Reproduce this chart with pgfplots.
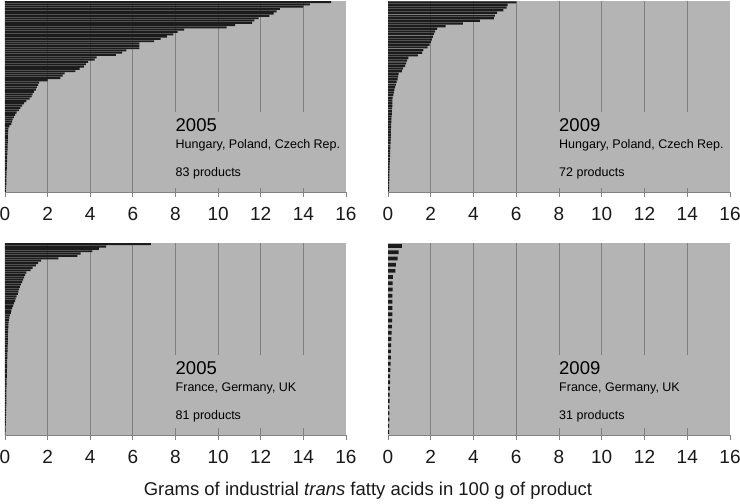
\documentclass[border=0pt]{standalone}
\usepackage{fontspec}
\setmainfont{Liberation Sans}
\usepackage{pgfplots}
\pgfplotsset{compat=1.18}
\definecolor{bgcol}{RGB}{180,180,180}
\definecolor{barcol}{RGB}{28,28,28}
\definecolor{gridcol}{RGB}{128,128,128}
\definecolor{axcol}{RGB}{130,130,130}
\pgfplotsset{
  panel/.style={
    scale only axis, width=341pt, height=191pt,
    xmin=0, xmax=16,
    axis x line*=bottom, axis y line=none,
    xtick={2,4,...,14}, extra x ticks={0,16}, extra x tick style={grid=none},
    xmajorgrids, grid style={gridcol, line width=0.9pt},
    axis background/.style={fill=bgcol},
    tick align=outside, major tick length=5pt,
    tick style={axcol, line width=0.8pt},
    axis line style={axcol, line width=0.8pt},
    ytick=\empty,
    /pgf/number format/assume math mode=true,
    xticklabel style={font=\fontsize{19}{21}\selectfont, text=black!90, text height=13.6pt, text depth=0pt, yshift=-6pt},
    clip=false,
  },
  bars/.style={xbar, fill=barcol, draw=none, bar width=0.8, forget plot},
}
\newcommand{\panellabels}[5]{%
  \fill[bgcol] (axis description cs:0.484,#4) rectangle (axis description cs:1,#5);
  \node[anchor=west, inner sep=0pt, font=\fontsize{18.5}{20}\selectfont] at (axis description cs:0.5,#5-0.07) {#1};
  \node[anchor=west, inner sep=0pt, font=\fontsize{12.5}{14}\selectfont] at (axis description cs:0.5,#5-0.175) {#2};
  \node[anchor=west, inner sep=0pt, font=\fontsize{12.5}{14}\selectfont] at (axis description cs:0.5,#5-0.32) {#3};
}
\begin{document}
\begin{tikzpicture}
% ---------- top left: 2005 Hungary, Poland, Czech Rep.
\begin{axis}[panel, at={(5pt,312pt)}, anchor=south west, ymin=-83.5, ymax=-0.5]
\addplot[bars] coordinates {
(15.3,-1) (14.3,-2) (14.0,-3) (12.9,-4) (12.75,-5) (12.6,-6) (12.4,-7) (11.9,-8) (11.7,-9) (11.6,-10)
(10.8,-11) (10.4,-12) (8.4,-13) (8.1,-14) (7.9,-15) (7.6,-16) (7.3,-17) (7.0,-18) (6.3,-19) (6.3,-20)
(6.3,-21) (5.7,-22) (5.5,-23) (5.2,-24) (4.3,-25) (4.2,-26) (3.9,-27) (3.8,-28) (3.7,-29) (3.5,-30)
(3.3,-31) (2.8,-32) (2.7,-33) (2.6,-34) (2.0,-35) (1.6,-36) (1.55,-37) (1.5,-38) (1.45,-39) (1.35,-40)
(1.3,-41) (1.25,-42) (1.15,-43) (1.0,-44) (0.9,-45) (0.8,-46) (0.72,-47) (0.65,-48) (0.55,-49) (0.48,-50)
(0.42,-51) (0.36,-52) (0.33,-53) (0.3,-54) (0.2,-55) (0.16,-56) (0.15,-57) (0.15,-58) (0.14,-59) (0.14,-60)
(0.13,-61) (0.13,-62) (0.12,-63) (0.12,-64) (0.12,-65) (0.11,-66) (0.11,-67) (0.1,-68) (0.1,-69) (0.1,-70)
(0.09,-71) (0.09,-72) (0.09,-73) (0.08,-74) (0.08,-75) (0.08,-76) (0.07,-77) (0.07,-78) (0.06,-79) (0.06,-80)
(0.05,-81) (0.05,-82) (0.04,-83)
};
\panellabels{2005}{Hungary, Poland, Czech Rep.}{83 products}{0.021}{0.419}
\end{axis}
% ---------- top right: 2009 Hungary, Poland, Czech Rep.
\begin{axis}[panel, at={(388pt,312pt)}, anchor=south west, width=342pt, ymin=-72.5, ymax=-0.5]
\addplot[bars] coordinates {
(6.0,-1) (5.6,-2) (5.55,-3) (5.4,-4) (5.1,-5) (5.0,-6) (4.95,-7) (4.3,-8) (3.5,-9) (2.7,-10)
(2.3,-11) (2.2,-12) (2.15,-13) (2.1,-14) (2.05,-15) (2.0,-16) (1.95,-17) (1.85,-18) (1.65,-19) (1.6,-20)
(1.4,-21) (0.95,-22) (0.9,-23) (0.85,-24) (0.8,-25) (0.7,-26) (0.65,-27) (0.5,-28) (0.47,-29) (0.45,-30)
(0.4,-31) (0.37,-32) (0.33,-33) (0.3,-34) (0.27,-35) (0.25,-36) (0.22,-37) (0.21,-38) (0.2,-39) (0.2,-40)
(0.19,-41) (0.18,-42) (0.18,-43) (0.17,-44) (0.16,-45) (0.16,-46) (0.15,-47) (0.15,-48) (0.14,-49) (0.14,-50)
(0.13,-51) (0.13,-52) (0.12,-53) (0.12,-54) (0.11,-55) (0.11,-56) (0.1,-57) (0.1,-58) (0.1,-59) (0.09,-60)
(0.09,-61) (0.08,-62) (0.08,-63) (0.08,-64) (0.07,-65) (0.07,-66) (0.06,-67) (0.06,-68) (0.05,-69) (0.05,-70)
(0.05,-71) (0.04,-72)
};
\panellabels{2009}{Hungary, Poland, Czech Rep.}{72 products}{0.021}{0.419}
\end{axis}
% ---------- bottom left: 2005 France, Germany, UK
\begin{axis}[panel, at={(5pt,69pt)}, anchor=south west, height=192pt, ymin=-81.5, ymax=-0.5]
\addplot[bars] coordinates {
(6.85,-1) (4.74,-2) (4.4,-3) (4.1,-4) (3.55,-5) (3.4,-6) (2.5,-7) (1.7,-8) (1.55,-9) (1.45,-10)
(1.3,-11) (1.2,-12) (1.0,-13) (0.95,-14) (0.9,-15) (0.85,-16) (0.8,-17) (0.75,-18) (0.7,-19) (0.66,-20)
(0.63,-21) (0.6,-22) (0.55,-23) (0.5,-24) (0.47,-25) (0.42,-26) (0.38,-27) (0.34,-28) (0.3,-29) (0.27,-30)
(0.23,-31) (0.2,-32) (0.18,-33) (0.17,-34) (0.16,-35) (0.16,-36) (0.15,-37) (0.15,-38) (0.14,-39) (0.14,-40)
(0.13,-41) (0.13,-42) (0.13,-43) (0.12,-44) (0.12,-45) (0.12,-46) (0.11,-47) (0.11,-48) (0.11,-49) (0.1,-50)
(0.1,-51) (0.1,-52) (0.1,-53) (0.09,-54) (0.09,-55) (0.09,-56) (0.09,-57) (0.08,-58) (0.08,-59) (0.08,-60)
(0.08,-61) (0.07,-62) (0.07,-63) (0.07,-64) (0.07,-65) (0.06,-66) (0.06,-67) (0.06,-68) (0.06,-69) (0.05,-70)
(0.05,-71) (0.05,-72) (0.05,-73) (0.04,-74) (0.04,-75) (0.04,-76) (0.04,-77) (0.03,-78) (0.03,-79) (0.03,-80)
(0.02,-81)
};
\panellabels{2005}{France, Germany, UK}{81 products}{0.036}{0.417}
\end{axis}
% ---------- bottom right: 2009 France, Germany, UK
\begin{axis}[panel, at={(388pt,69pt)}, anchor=south west, width=342pt, height=192pt, ymin=-31.5, ymax=-0.5]
\addplot[bars, bar width=0.6] coordinates {
(0.65,-1) (0.5,-2) (0.45,-3) (0.37,-4) (0.35,-5) (0.23,-6) (0.22,-7) (0.22,-8) (0.21,-9) (0.21,-10)
(0.2,-11) (0.2,-12) (0.19,-13) (0.18,-14) (0.17,-15) (0.16,-16) (0.15,-17) (0.14,-18) (0.13,-19) (0.12,-20)
(0.11,-21) (0.1,-22) (0.1,-23) (0.09,-24) (0.08,-25) (0.08,-26) (0.07,-27) (0.06,-28) (0.06,-29) (0.05,-30)
(0.05,-31)
};
\panellabels{2009}{France, Germany, UK}{31 products}{0.036}{0.417}
\end{axis}
\node[anchor=base, inner sep=0pt, font=\fontsize{18.5}{21}\selectfont, text=black!90] at (368pt,8pt) {Grams of industrial \textit{trans} fatty acids in 100 g of product};
\pgfresetboundingbox
\path[use as bounding box] (0pt,0pt) rectangle (740pt,504pt);
\end{tikzpicture}
\end{document}
